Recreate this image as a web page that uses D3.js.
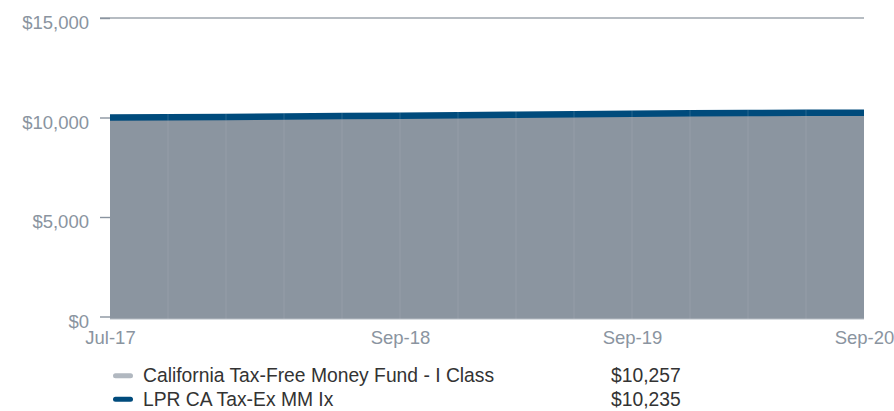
<!DOCTYPE html>
<html>
<head>
<meta charset="utf-8">
<script src="https://cdn.jsdelivr.net/npm/d3@7"></script>
<style>
html,body{margin:0;padding:0;background:#fff;}
svg{display:block;}
text{font-family:"Liberation Sans","Helvetica Neue",Arial,sans-serif;}
</style>
</head>
<body>
<svg id="chart" width="894" height="411"></svg>
<script>
const periods = ["Jul-17","Sep-17","Dec-17","Mar-18","Jun-18","Sep-18","Dec-18","Mar-19","Jun-19","Sep-19","Dec-19","Mar-20","Jun-20","Sep-20"];
const fundValues = [10000,10012,10031,10052,10075,10097,10125,10153,10180,10204,10227,10245,10253,10257];
const indexValues = [10000,10011,10029,10049,10071,10092,10118,10144,10169,10191,10212,10228,10234,10235];
const xTickLabels = ["Jul-17","Sep-18","Sep-19","Sep-20"];
const yTicks = [0,5000,10000,15000];
const seriesNames = ["California Tax-Free Money Fund - I Class","LPR CA Tax-Ex MM Ix"];
const endingValues = ["$10,257","$10,235"];

(function(){
const svg = d3.select("#chart");
const mLeft = 110, mRight = 864, mTop = 18, mBottom = 316.5;

const x = d3.scalePoint().domain(periods).range([mLeft, mRight]);
const y = d3.scaleLinear().domain([0,15000]).range([mBottom, mTop]);

const axisColor = "#8a94a0";
const areaColor = "#8b95a0";
const lineColor = "#004b7c";

svg.append("line").attr("x1",100).attr("x2",mRight).attr("y1",y(15000)).attr("y2",y(15000))
  .attr("stroke","#6f7a86").attr("stroke-width",1.2);

const yAxis = d3.axisLeft(y).tickValues(yTicks).tickSize(10).tickPadding(11)
  .tickFormat(d => "$" + d3.format(",")(d));
const gy = svg.append("g").attr("transform",`translate(${mLeft},0)`).call(yAxis);
gy.select(".domain").remove();
gy.selectAll("line").attr("stroke","#8a94a0").attr("stroke-width",1.4);
gy.selectAll("text").attr("fill",axisColor).attr("font-size","18.5px").attr("y",5);

const area = d3.area().x((d,i)=>x(periods[i])).y0(y(0)+2.5).y1(d=>y(d));
svg.append("path").datum(fundValues).attr("d",area).attr("fill",areaColor);

svg.append("line").attr("x1",mLeft).attr("x2",mRight).attr("y1",y(0)+2.5).attr("y2",y(0)+2.5)
  .attr("stroke","#b4bbc3").attr("stroke-width",1);

svg.append("g").selectAll("line").data(periods.slice(1,-1)).join("line")
  .attr("x1",d=>x(d)).attr("x2",d=>x(d))
  .attr("y1",(d,i)=>y(indexValues[i+1])).attr("y2",y(0)+2.5)
  .attr("stroke","rgba(255,255,255,0.09)").attr("stroke-width",1);

const line = d3.line().x((d,i)=>x(periods[i])).y(d=>y(d));
svg.append("path").datum(indexValues).attr("d",line).attr("fill","none")
  .attr("stroke",lineColor).attr("stroke-width",6.5);

svg.append("g").selectAll("line").data(periods.slice(1,-1)).join("line")
  .attr("x1",d=>x(d)).attr("x2",d=>x(d))
  .attr("y1",(d,i)=>y(indexValues[i+1])-3.2).attr("y2",(d,i)=>y(indexValues[i+1])+3.2)
  .attr("stroke","rgba(255,255,255,0.15)").attr("stroke-width",1);

const xAxis = d3.axisBottom(x).tickValues(xTickLabels).tickSize(0).tickPadding(0);
const gx = svg.append("g").attr("transform",`translate(0,${mBottom})`).call(xAxis);
gx.select(".domain").remove();
gx.selectAll("text").attr("fill",axisColor).attr("font-size","18.5px").attr("y",27.5).attr("dy",0);

const legendColors = ["#b1b8c0", lineColor];
const lg = svg.append("g");
seriesNames.forEach((name,i)=>{
  const yy = 375.7 + i*23.5;
  lg.append("line").attr("x1",115.5).attr("x2",130.5).attr("y1",yy).attr("y2",yy)
    .attr("stroke",legendColors[i]).attr("stroke-width",5).attr("stroke-linecap","round");
  lg.append("text").attr("x",143).attr("y",yy+6.3).attr("font-size","19.3px").attr("fill","#333")
    .text(name);
  lg.append("text").attr("x",611).attr("y",yy+6.3).attr("font-size","19.3px").attr("fill","#333")
    .text(endingValues[i]);
});
})();
</script>
</body>
</html>
